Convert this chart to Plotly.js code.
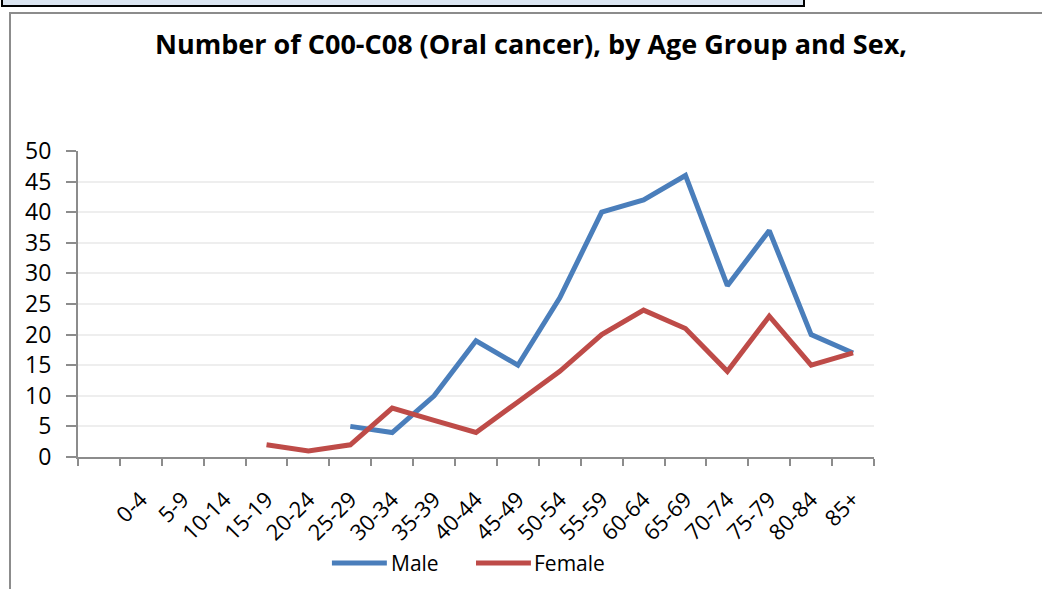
<!DOCTYPE html>
<html>
<head>
<meta charset="utf-8">
<script src="https://cdn.plot.ly/plotly-3.0.1.min.js"></script>
<style>
  html, body { margin: 0; padding: 0; background: #fff; }
  #wrap { position: relative; width: 1042px; height: 589px; overflow: hidden; }
  #topbox { position: absolute; left: 1px; top: -4px; width: 800px; height: 7px; border: 2px solid #000; background: #dbe5f1; }
  #frame { position: absolute; left: 9px; top: 12px; width: 1100px; height: 700px; border: 2px solid #8c8c8c; box-sizing: border-box; }
  #chart { position: absolute; left: 0; top: 0; width: 1042px; height: 589px; }
</style>
</head>
<body>
<div id="wrap">
  <div id="topbox"></div>
  <div id="frame"></div>
  <div id="chart"></div>
</div>
<script>
// Axis slots: the source chart has an empty first slot before "0-4"
const axisSlots = [" ","0-4","5-9","10-14","15-19","20-24","25-29","30-34","35-39","40-44","45-49","50-54","55-59","60-64","65-69","70-74","75-79","80-84","85+"];
const ageGroups = ["0-4","5-9","10-14","15-19","20-24","25-29","30-34","35-39","40-44","45-49","50-54","55-59","60-64","65-69","70-74","75-79","80-84","85+"];
const maleValues = [null,null,null,null,null,5,4,10,19,15,26,40,42,46,28,37,20,17];
const femaleValues = [null,null,null,2,1,2,8,6,4,9,14,20,24,21,14,23,15,17];
const yTicks = [0,5,10,15,20,25,30,35,40,45,50];
const seriesNames = ["Male","Female"];
const seriesColors = ["#4a7ebb","#be4b48"];

const font = "'Open Sans', Calibri, sans-serif";

const traces = [
  { x: ageGroups, y: maleValues, name: seriesNames[0], type: "scatter", mode: "lines",
    line: { color: seriesColors[0], width: 5 }, connectgaps: false, showlegend: false },
  { x: ageGroups, y: femaleValues, name: seriesNames[1], type: "scatter", mode: "lines",
    line: { color: seriesColors[1], width: 5 }, connectgaps: false, showlegend: false }
];

// custom legend (long line samples like the source)
const legendY = -0.3464;
const legendItems = [
  { x0: 0.319, x1: 0.388, tx: 0.3945 },
  { x0: 0.500, x1: 0.569, tx: 0.5741 }
];
const shapes = legendItems.map((it, i) => ({
  type: "line", xref: "paper", yref: "paper", x0: it.x0, x1: it.x1, y0: legendY, y1: legendY,
  line: { color: seriesColors[i], width: 5 }
}));
const annotations = legendItems.map((it, i) => ({
  xref: "paper", yref: "paper", x: it.tx, y: legendY, xanchor: "left", yanchor: "middle",
  xshift: -3, text: seriesNames[i], showarrow: false, font: { family: font, size: 21, color: "#000" }
}));

const layout = {
  width: 1042, height: 589,
  paper_bgcolor: "rgba(0,0,0,0)", plot_bgcolor: "rgba(0,0,0,0)",
  margin: { l: 78, r: 168, t: 151, b: 132 },
  font: { family: font, color: "#000", size: 20 },
  title: { text: "<b>Number of C00-C08 (Oral cancer), by Age Group and Sex,</b>",
    font: { family: font, size: 27, color: "#000" },
    x: 0.5096, xanchor: "center", y: 0.9236, yanchor: "middle",
    xref: "container", yref: "container" },
  xaxis: {
    type: "category", categoryorder: "array", categoryarray: axisSlots,
    tickvals: axisSlots, ticktext: axisSlots,
    range: [-0.5, axisSlots.length - 0.5], automargin: false,
    tickson: "boundaries", ticks: "outside", ticklen: 7, tickwidth: 2, tickcolor: "#8c8c8c",
    showline: true, linecolor: "#8c8c8c", linewidth: 2,
    showgrid: false, zeroline: false, tickangle: -45, ticklabelstandoff: 19,
    tickfont: { family: font, size: 22, color: "#000" }
  },
  yaxis: {
    range: [0, 50], tickvals: yTicks, ticktext: yTicks.map(String), automargin: false,
    ticks: "outside", ticklen: 10, tickwidth: 2, tickcolor: "#8c8c8c",
    showline: true, linecolor: "#8c8c8c", linewidth: 2,
    showgrid: true, gridcolor: "#eeeeee", gridwidth: 2, zeroline: false,
    tickfont: { family: font, size: 23, color: "#000" }, ticklabelstandoff: 10
  },
  showlegend: false,
  shapes: shapes,
  annotations: annotations
};

Plotly.newPlot("chart", traces, layout, { displayModeBar: false, staticPlot: true });
</script>
</body>
</html>
